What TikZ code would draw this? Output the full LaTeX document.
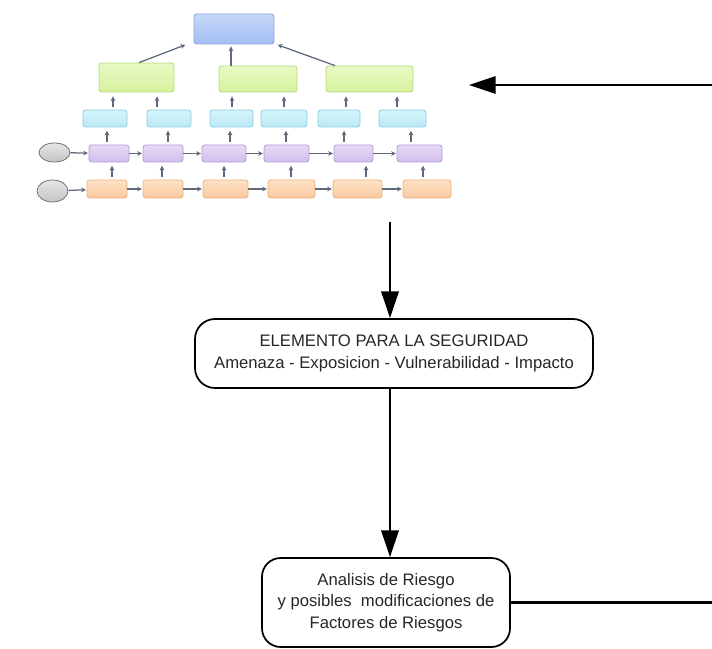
\documentclass[tikz,border=0pt]{standalone}
\usepackage{fontspec}
\setmainfont{Liberation Sans}
\usetikzlibrary{arrows.meta,shapes.geometric}
\definecolor{arrgray}{HTML}{5E6A7C}
\definecolor{bluetop}{HTML}{C6D7FA}\definecolor{bluebot}{HTML}{A4BEF2}\definecolor{blueedge}{HTML}{8CA6DE}
\definecolor{greentop}{HTML}{E9F9C6}\definecolor{greenbot}{HTML}{D6F29C}\definecolor{greenedge}{HTML}{B8DC82}
\definecolor{cyantop}{HTML}{D6F4FA}\definecolor{cyanbot}{HTML}{B9E9F5}\definecolor{cyanedge}{HTML}{8CCFE3}
\definecolor{purptop}{HTML}{E8DAF6}\definecolor{purpbot}{HTML}{D2BDEC}\definecolor{purpedge}{HTML}{B39CD6}
\definecolor{orantop}{HTML}{FDE2C6}\definecolor{oranbot}{HTML}{FAC9A0}\definecolor{oranedge}{HTML}{EDB27F}
\definecolor{elltop}{HTML}{E6E6E6}\definecolor{ellbot}{HTML}{C4C4C4}
\tikzset{
  box/.style={rectangle, rounded corners=2pt, line width=0.6pt, inner sep=0pt},
  bluebox/.style={box, draw=blueedge, top color=bluetop, bottom color=bluebot},
  greenbox/.style={box, draw=greenedge, top color=greentop, bottom color=greenbot, minimum height=19.5pt},
  cyanbox/.style={box, draw=cyanedge, top color=cyantop, bottom color=cyanbot, minimum height=12.75pt},
  purpbox/.style={box, draw=purpedge, top color=purptop, bottom color=purpbot, minimum height=12.75pt},
  oranbox/.style={box, draw=oranedge, top color=orantop, bottom color=oranbot, minimum height=13.5pt},
  startell/.style={ellipse, draw=black!55, line width=0.6pt, top color=elltop, bottom color=ellbot, inner sep=0pt, minimum width=23.25pt},
  small/.style={draw=arrgray, line width=0.95pt, -{Stealth[length=3.6pt,width=3.6pt]}},
  flowbox/.style={rectangle, rounded corners=15pt, draw=black, line width=1.3pt, align=center,
    font=\fontsize{12.5}{16.5}\selectfont, text=black!85, inner sep=0pt},
  big/.style={draw=black, line width=1.6pt, -{Triangle[length=20pt,width=13pt]}},
  plain/.style={draw=black, line width=1.6pt}
}
\begin{document}
\begin{tikzpicture}[x=0.75pt, y=-0.75pt]
\useasboundingbox (0,0) rectangle (712,648);

% hierarchy: root, middle layer, feature boxes, two recurrent rows
\node[bluebox, minimum width=60pt, minimum height=22.5pt] (root) at (234,29) {};
\node[greenbox, minimum width=56.25pt, minimum height=21.75pt] (g1) at (136.5,77.5) {};
\node[greenbox, minimum width=58.5pt] (g2) at (258,79) {};
\node[greenbox, minimum width=65.25pt] (g3) at (369.5,79) {};

\node[cyanbox, minimum width=33pt]    (c1) at (105,118.5) {};
\node[cyanbox, minimum width=33pt]    (c2) at (169,118.5) {};
\node[cyanbox, minimum width=32.25pt] (c3) at (231.5,118.5) {};
\node[cyanbox, minimum width=34.5pt]  (c4) at (284,118.5) {};
\node[cyanbox, minimum width=31.5pt]  (c5) at (339,118.5) {};
\node[cyanbox, minimum width=35.25pt] (c6) at (402.5,118.5) {};

\node[purpbox, minimum width=30pt]    (p1) at (109,153.5) {};
\node[purpbox, minimum width=30pt]    (p2) at (163,153.5) {};
\node[purpbox, minimum width=33pt]    (p3) at (224,153.5) {};
\node[purpbox, minimum width=33.75pt] (p4) at (286.5,153.5) {};
\node[purpbox, minimum width=29.25pt] (p5) at (353.5,153.5) {};
\node[purpbox, minimum width=33.75pt] (p6) at (419.5,153.5) {};

\node[oranbox, minimum width=30pt]    (o1) at (107,189) {};
\node[oranbox, minimum width=30pt]    (o2) at (163,189) {};
\node[oranbox, minimum width=33.75pt] (o3) at (225.5,189) {};
\node[oranbox, minimum width=35.25pt] (o4) at (291.5,189) {};
\node[oranbox, minimum width=36.75pt] (o5) at (357.5,189) {};
\node[oranbox, minimum width=36pt]    (o6) at (427,189) {};

\node[startell, minimum height=14.25pt] (e1) at (54.5,152.5) {};
\node[startell, minimum height=16.5pt]  (e2) at (52.5,191) {};

% links up to the root
\draw[small, shorten >=1pt] ([xshift=1.9pt]g1.north) -- ([xshift=-5.25pt]root.south west);
\draw[small, shorten >=1.5pt] ([xshift=-2.25pt]root.south |- g2.north) -- ([xshift=-2.25pt]root.south);
\draw[small, shorten >=1pt] ([xshift=-25.9pt]g3.north) -- ([xshift=1.5pt]root.south east);

% feature boxes to middle layer
\foreach \c/\g/\dx in {c1/g1/6pt, c2/g1/-9pt, c3/g2/0.4pt, c4/g2/0pt, c5/g3/5.25pt, c6/g3/-4.1pt}
  \draw[small, shorten <=2pt, shorten >=3pt] ([xshift=\dx]\c.north) -- ([xshift=\dx]\c.north |- \g.south);

% upper row to feature boxes
\foreach \p/\c/\dx in {p1/c1/-1.5pt, p2/c2/3.75pt, p3/c3/4.5pt, p4/c4/-0.4pt, p5/c5/-7.1pt, p6/c6/-6.4pt}
  \draw[small, shorten <=2pt, shorten >=2.5pt] ([xshift=\dx]\p.north) -- ([xshift=\dx]\p.north |- \c.south);

% lower row to upper row
\foreach \o/\p/\dx in {o1/p1/3.75pt, o2/p2/-0.75pt, o3/p3/-1.1pt, o4/p4/-0.4pt, o5/p5/6.4pt, o6/p6/-3pt}
  \draw[small, shorten <=2pt, shorten >=2.5pt] ([xshift=\dx]\o.north) -- ([xshift=\dx]\o.north |- \p.south);

% chains along each row
\foreach \a/\b in {e1/p1, p1/p2, p2/p3, p3/p4, p4/p5, p5/p6}
  \draw[small, shorten >=0.5pt] (\a) -- (\b);
\foreach \a/\b in {e2/o1, o1/o2, o2/o3, o3/o4, o4/o5, o5/o6}
  \draw[small, shorten >=0.5pt] (\a) -- (\b);

% flow boxes
\node[flowbox, minimum width=298.5pt, minimum height=51.75pt] (elem) at (394,353.5)
  {ELEMENTO PARA LA SEGURIDAD\\Amenaza - Exposicion - Vulnerabilidad - Impacto};
\node[flowbox, rounded corners=14pt, minimum width=186pt, minimum height=66.75pt, font=\fontsize{12.5}{16}\selectfont] (anal) at (386,602.5)
  {Analisis de Riesgo\\y posibles\ \ modificaciones de\\Factores de Riesgos};

% flow connectors
\coordinate (down) at (390,222);
\coordinate (back) at (712,85);
\coordinate (into) at (469,85);
\coordinate (edge) at (712,601);
\draw[big] (down) -- (elem.north -| down);
\draw[big] (elem.south -| down) -- (anal.north -| down);
\draw[plain] (anal.east) -- (anal.east -| edge);
\draw[big] (back) -- (into);
\end{tikzpicture}
\end{document}
